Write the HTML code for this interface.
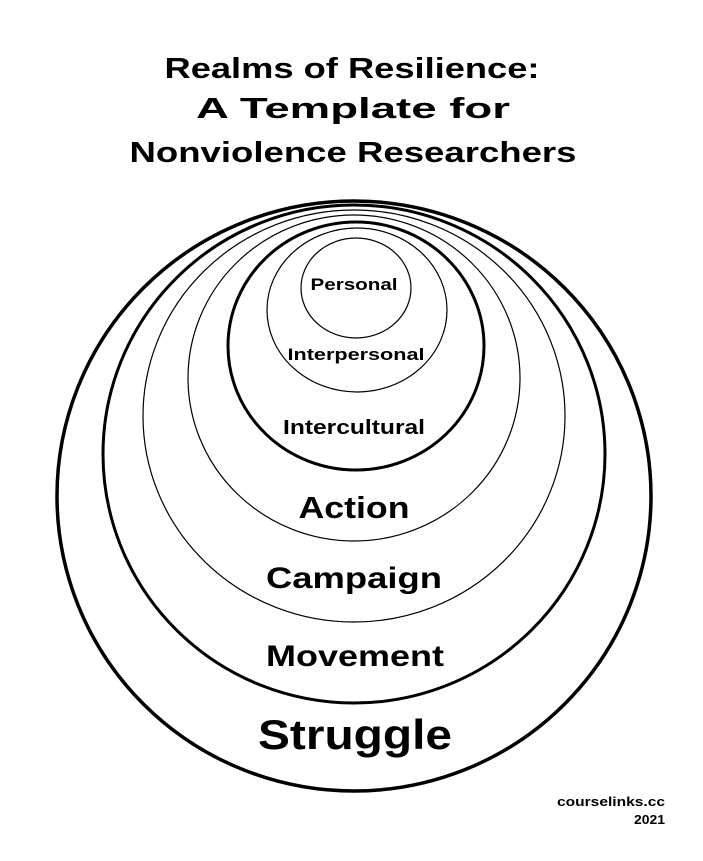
<!DOCTYPE html>
<html><head><meta charset="utf-8"><style>
html,body{margin:0;padding:0;background:#fff;}
svg{display:block;}
text{font-family:"Liberation Sans",Arial,sans-serif;font-weight:bold;fill:#000;text-anchor:middle;}
</style></head><body>
<svg width="703" height="861" viewBox="0 0 703 861" xmlns="http://www.w3.org/2000/svg">
<rect width="703" height="861" fill="#fff"/>
<text x="352" y="78" font-size="29" textLength="375" lengthAdjust="spacingAndGlyphs">Realms of Resilience:</text>
<text x="353" y="118" font-size="29" textLength="314" lengthAdjust="spacingAndGlyphs">A Template for</text>
<text x="353" y="162" font-size="29" textLength="447" lengthAdjust="spacingAndGlyphs">Nonviolence Researchers</text>
<g fill="none" stroke="#000">
<ellipse cx="354" cy="496" rx="297" ry="295" stroke-width="3.5"/>
<ellipse cx="354" cy="454" rx="251" ry="249" stroke-width="3"/>
<ellipse cx="354" cy="416" rx="211" ry="206" stroke-width="1.2"/>
<ellipse cx="354" cy="378" rx="166" ry="163" stroke-width="1.2"/>
<ellipse cx="356" cy="346" rx="128" ry="124" stroke-width="3"/>
<ellipse cx="357" cy="310" rx="90" ry="82" stroke-width="1.2"/>
<ellipse cx="356" cy="288" rx="55" ry="50" stroke-width="1.2"/>
</g>
<text x="354" y="290" font-size="17" textLength="87" lengthAdjust="spacingAndGlyphs">Personal</text>
<text x="356" y="360" font-size="17" textLength="137" lengthAdjust="spacingAndGlyphs">Interpersonal</text>
<text x="354" y="434" font-size="20" textLength="142" lengthAdjust="spacingAndGlyphs">Intercultural</text>
<text x="354" y="518" font-size="31" textLength="111" lengthAdjust="spacingAndGlyphs">Action</text>
<text x="354" y="588" font-size="30" textLength="176" lengthAdjust="spacingAndGlyphs">Campaign</text>
<text x="355" y="666" font-size="30" textLength="178" lengthAdjust="spacingAndGlyphs">Movement</text>
<text x="355" y="749" font-size="42" textLength="194" lengthAdjust="spacingAndGlyphs">Struggle</text>
<text x="611" y="806" font-size="13" textLength="108" lengthAdjust="spacingAndGlyphs">courselinks.cc</text>
<text x="649.5" y="824" font-size="13" textLength="31" lengthAdjust="spacingAndGlyphs">2021</text>
</svg>
</body></html>
